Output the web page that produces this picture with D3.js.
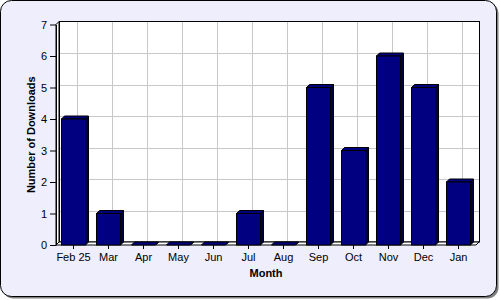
<!DOCTYPE html>
<html lang="en">
<head>
<meta charset="utf-8">
<title>Downloads per Month</title>
<script src="https://d3js.org/d3.v7.min.js"></script>
<style>
  body { margin: 0; background: #fff; }
  svg text { font-family: "Liberation Sans", Arial, sans-serif; }
</style>
</head>
<body>
<script>
// data
var months = ["Feb 25", "Mar", "Apr", "May", "Jun", "Jul", "Aug", "Sep", "Oct", "Nov", "Dec", "Jan"];
var downloads = [4, 1, 0, 0, 0, 1, 0, 5, 3, 6, 5, 2];
var yTicks = [0, 1, 2, 3, 4, 5, 6, 7];

var width = 500, height = 300;
var depth = 3;   // 3d offset

var svg = d3.select("body").append("svg")
    .attr("width", width)
    .attr("height", height);

// rounded frame with shadow
svg.append("rect")
    .attr("x", 2.5).attr("y", 2.5)
    .attr("width", 496).attr("height", 296)
    .attr("rx", 11)
    .attr("fill", "#808080");
svg.append("rect")
    .attr("x", 0.5).attr("y", 0.5)
    .attr("width", 496).attr("height", 296)
    .attr("rx", 11)
    .attr("fill", "#eeeefd")
    .attr("stroke", "#000")
    .attr("stroke-width", 1);

var x = d3.scaleBand()
    .domain(months)
    .range([56, 476])
    .paddingInner(0.314)
    .paddingOuter(0.157);

var y = d3.scaleLinear()
    .domain([0, 7])
    .range([245, 24.5]);

var left = 56, right = 476;

// back wall
svg.append("rect")
    .attr("x", left + depth + 0.5)
    .attr("y", y(7) - depth)
    .attr("width", right - left)
    .attr("height", y(0) - y(7))
    .attr("fill", "#fff");

var grid = svg.append("g")
    .attr("stroke", "#c8c8c8")
    .attr("stroke-width", 1);

grid.selectAll("line.h")
    .data(yTicks.slice(1, -1))
    .enter().append("line")
    .attr("x1", left + depth).attr("x2", right + depth)
    .attr("y1", function(d) { return Math.round(y(d) - depth) + 0.5; })
    .attr("y2", function(d) { return Math.round(y(d) - depth) + 0.5; });

grid.selectAll("line.v")
    .data(months)
    .enter().append("line")
    .attr("x1", function(d) { return Math.round(x(d) + x.bandwidth() / 2 + depth) + 0.5; })
    .attr("x2", function(d) { return Math.round(x(d) + x.bandwidth() / 2 + depth) + 0.5; })
    .attr("y1", y(7) - depth).attr("y2", y(0) - depth);

svg.append("rect")
    .attr("x", left + depth + 0.5)
    .attr("y", y(7) - depth)
    .attr("width", right - left)
    .attr("height", y(0) - y(7))
    .attr("fill", "none")
    .attr("stroke", "#000");

// left wall
svg.append("path")
    .attr("d", "M" + left + "," + y(0) + "L" + left + "," + y(7) +
        "L" + (left + depth) + "," + (y(7) - depth) + "L" + (left + depth) + "," + (y(0) - depth) + "Z")
    .attr("fill", "#fff")
    .attr("stroke", "#000");

// floor
svg.append("path")
    .attr("d", "M" + left + "," + y(0) + "L" + right + "," + y(0) +
        "L" + (right + depth) + "," + (y(0) - depth) + "L" + (left + depth) + "," + (y(0) - depth) + "Z")
    .attr("fill", "#fff")
    .attr("stroke", "#000");

// bars
var bars = svg.selectAll("g.bar")
    .data(months.map(function(m, i) { return { m: m, v: downloads[i] }; }))
    .enter().append("g")
    .attr("class", "bar");

var bw = x.bandwidth();

bars.append("path") // side
    .attr("d", function(d) {
        var x1 = x(d.m) + bw, yt = y(d.v), yb = y(0);
        return "M" + x1 + "," + yb + "L" + x1 + "," + yt + "L" + (x1 + depth) + "," + (yt - depth) +
            "L" + (x1 + depth) + "," + (yb - depth) + "Z";
    })
    .attr("fill", "#000040")
    .attr("stroke", "#000");

bars.append("path") // top
    .attr("d", function(d) {
        var x0 = x(d.m), x1 = x0 + bw, yt = y(d.v);
        return "M" + x0 + "," + yt + "L" + (x0 + depth) + "," + (yt - depth) + "L" + (x1 + depth) + "," + (yt - depth) +
            "L" + x1 + "," + yt + "Z";
    })
    .attr("fill", "#000080")
    .attr("stroke", "#000");

bars.append("rect") // front
    .attr("x", function(d) { return x(d.m); })
    .attr("y", function(d) { return y(d.v); })
    .attr("width", bw)
    .attr("height", function(d) { return y(0) - y(d.v); })
    .attr("fill", "#000080")
    .attr("stroke", "#000");

// axes
var yAxis = svg.append("g")
    .attr("transform", "translate(" + left + ",0)")
    .call(d3.axisLeft(y).tickValues(yTicks).tickFormat(d3.format("d"))
        .tickSize(6).tickSizeOuter(0).tickPadding(3));
yAxis.select(".domain").attr("stroke", "#000");
yAxis.selectAll("text").attr("font-size", "11px").attr("fill", "#000");

var xAxis = svg.append("g")
    .attr("transform", "translate(0," + y(0) + ")")
    .call(d3.axisBottom(x).tickSize(4).tickSizeOuter(0).tickPadding(4));
xAxis.select(".domain").remove();
xAxis.selectAll("text").attr("font-size", "11px").attr("fill", "#000");

// titles
svg.append("text")
    .attr("x", (left + right) / 2)
    .attr("y", 277)
    .attr("text-anchor", "middle")
    .attr("font-size", "11px")
    .attr("font-weight", "bold")
    .text("Month");

svg.append("text")
    .attr("transform", "translate(35," + ((y(0) + y(7)) / 2) + ") rotate(-90)")
    .attr("text-anchor", "middle")
    .attr("font-size", "11px")
    .attr("font-weight", "bold")
    .text("Number of Downloads");
</script>
</body>
</html>
